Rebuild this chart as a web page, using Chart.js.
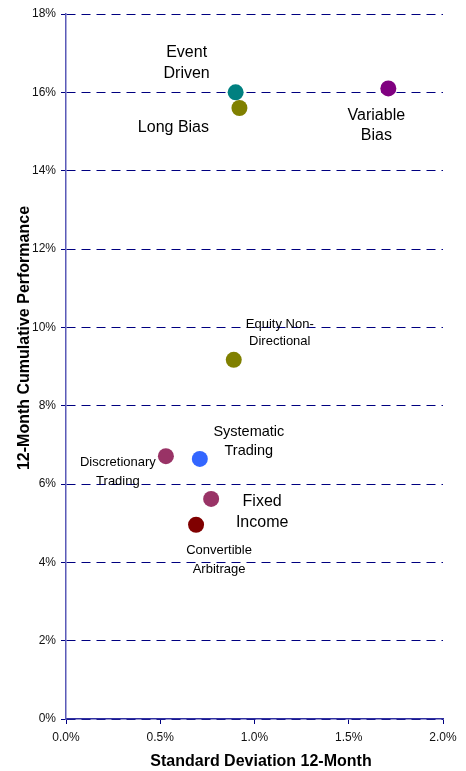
<!DOCTYPE html>
<html>
<head>
<meta charset="utf-8">
<script src="https://cdn.jsdelivr.net/npm/chart.js@4/dist/chart.umd.min.js"></script>
<style>
  html, body { margin: 0; padding: 0; background: #fff; }
  #wrap { width: 466px; height: 771px; }
</style>
</head>
<body>
<div id="wrap"><canvas id="riskChart" width="466" height="771"></canvas></div>
<script>
// ─── Datos ────────────────────────────────────────────────────────────────────
const strategies = ['Event Driven', 'Long Bias', 'Variable Bias', 'Equity Non-Directional',
                    'Discretionary Trading', 'Systematic Trading', 'Fixed Income', 'Convertible Arbitrage'];
const labelLines = [['Event', 'Driven'], ['Long Bias'], ['Variable', 'Bias'], ['Equity Non-', 'Directional'],
                    ['Discretionary', 'Trading'], ['Systematic', 'Trading'], ['Fixed', 'Income'], ['Convertible', 'Arbitrage']];
const stdDev12m  = [0.90, 0.92, 1.71, 0.89, 0.53, 0.71, 0.77, 0.69];   // %
const perf12m    = [16.0, 15.6, 16.1, 9.17, 6.71, 6.64, 5.62, 4.96];   // %
const xTicks     = [0, 0.5, 1.0, 1.5, 2.0];
const yTicks     = [0, 2, 4, 6, 8, 10, 12, 14, 16, 18];

// ─── Estilo ───────────────────────────────────────────────────────────────────
const FONT = '"Liberation Sans", Arial, sans-serif';
const pointColors = ['#008080', '#808000', '#800080', '#808000', '#993366', '#3366ff', '#993366', '#800000'];
// dx/dy: desplazamiento de la primera línea respecto al punto (px)
const labelStyle = [
  { dx: -49, dy: -40, size: 16, lh: 21 },
  { dx: -66, dy:  20, size: 16, lh: 21 },
  { dx: -12, dy:  27, size: 16, lh: 20 },
  { dx:  46, dy: -35, size: 13, lh: 17 },
  { dx: -48, dy:   6, size: 13, lh: 19 },
  { dx:  49, dy: -27, size: 14.5, lh: 19.5 },
  { dx:  51, dy:   3, size: 16, lh: 21 },
  { dx:  23, dy:  26, size: 13, lh: 18.5 },
];

const pointLabels = {
  id: 'pointLabels',
  afterDatasetsDraw(chart) {
    const { ctx, scales: { x, y } } = chart;
    ctx.save();
    ctx.fillStyle = '#000';
    ctx.textAlign = 'center';
    ctx.textBaseline = 'middle';
    labelLines.forEach((lines, i) => {
      const st = labelStyle[i];
      const px = x.getPixelForValue(stdDev12m[i]);
      const py = y.getPixelForValue(perf12m[i]);
      ctx.font = `${st.size}px ${FONT}`;
      lines.forEach((t, j) => ctx.fillText(t, px + st.dx, py + st.dy + j * st.lh));
    });
    ctx.restore();
  }
};

const axisTitles = {
  id: 'axisTitles',
  afterDraw(chart) {
    const { ctx, chartArea } = chart;
    ctx.save();
    ctx.fillStyle = '#000';
    ctx.font = `bold 16px ${FONT}`;
    ctx.textAlign = 'center';
    ctx.textBaseline = 'middle';
    ctx.fillText('Standard Deviation 12-Month', chartArea.left + 195, chartArea.bottom + 43);
    ctx.translate(25, chartArea.top + 324);
    ctx.rotate(-Math.PI / 2);
    ctx.fillText('12-Month Cumulative Performance', 0, 0);
    ctx.restore();
  }
};

const ctx = document.getElementById('riskChart').getContext('2d');
new Chart(ctx, {
  type: 'scatter',
  data: {
    datasets: [{
      label: '12-Month',
      data: strategies.map((s, i) => ({ x: stdDev12m[i], y: perf12m[i] })),
      pointBackgroundColor: pointColors,
      pointBorderWidth: 0,
      pointRadius: 8,
      pointHoverRadius: 8,
    }]
  },
  options: {
    responsive: false,
    animation: false,
    devicePixelRatio: 1,
    layout: { padding: { top: 14, right: 23, bottom: 0, left: 0 } },
    plugins: { legend: { display: false }, tooltip: { enabled: false } },
    scales: {
      x: {
        type: 'linear',
        min: xTicks[0],
        max: xTicks[xTicks.length - 1],
        afterFit: s => { s.height = 52; },
        afterBuildTicks: s => { s.ticks = xTicks.map(v => ({ value: v })); },
        grid: { drawOnChartArea: false, drawTicks: true, tickLength: 5, color: '#000080' },
        border: { color: '#3030a0', width: 1.5 },
        ticks: { color: '#111', padding: 6, font: { size: 12, family: FONT }, callback: v => v.toFixed(1) + '%' }
      },
      y: {
        type: 'linear',
        min: yTicks[0],
        max: yTicks[yTicks.length - 1],
        afterFit: s => { s.width = 66; },
        afterBuildTicks: s => { s.ticks = yTicks.map(v => ({ value: v })); },
        grid: { color: '#000080', lineWidth: 1, tickLength: 5, tickColor: '#000080' },
        border: { color: '#5a5ab8', width: 1.5, dash: [9, 6] },
        ticks: { color: '#111', padding: 5, font: { size: 12, family: FONT }, callback: v => v + '%' }
      }
    }
  },
  plugins: [pointLabels, axisTitles]
});
</script>
</body>
</html>
